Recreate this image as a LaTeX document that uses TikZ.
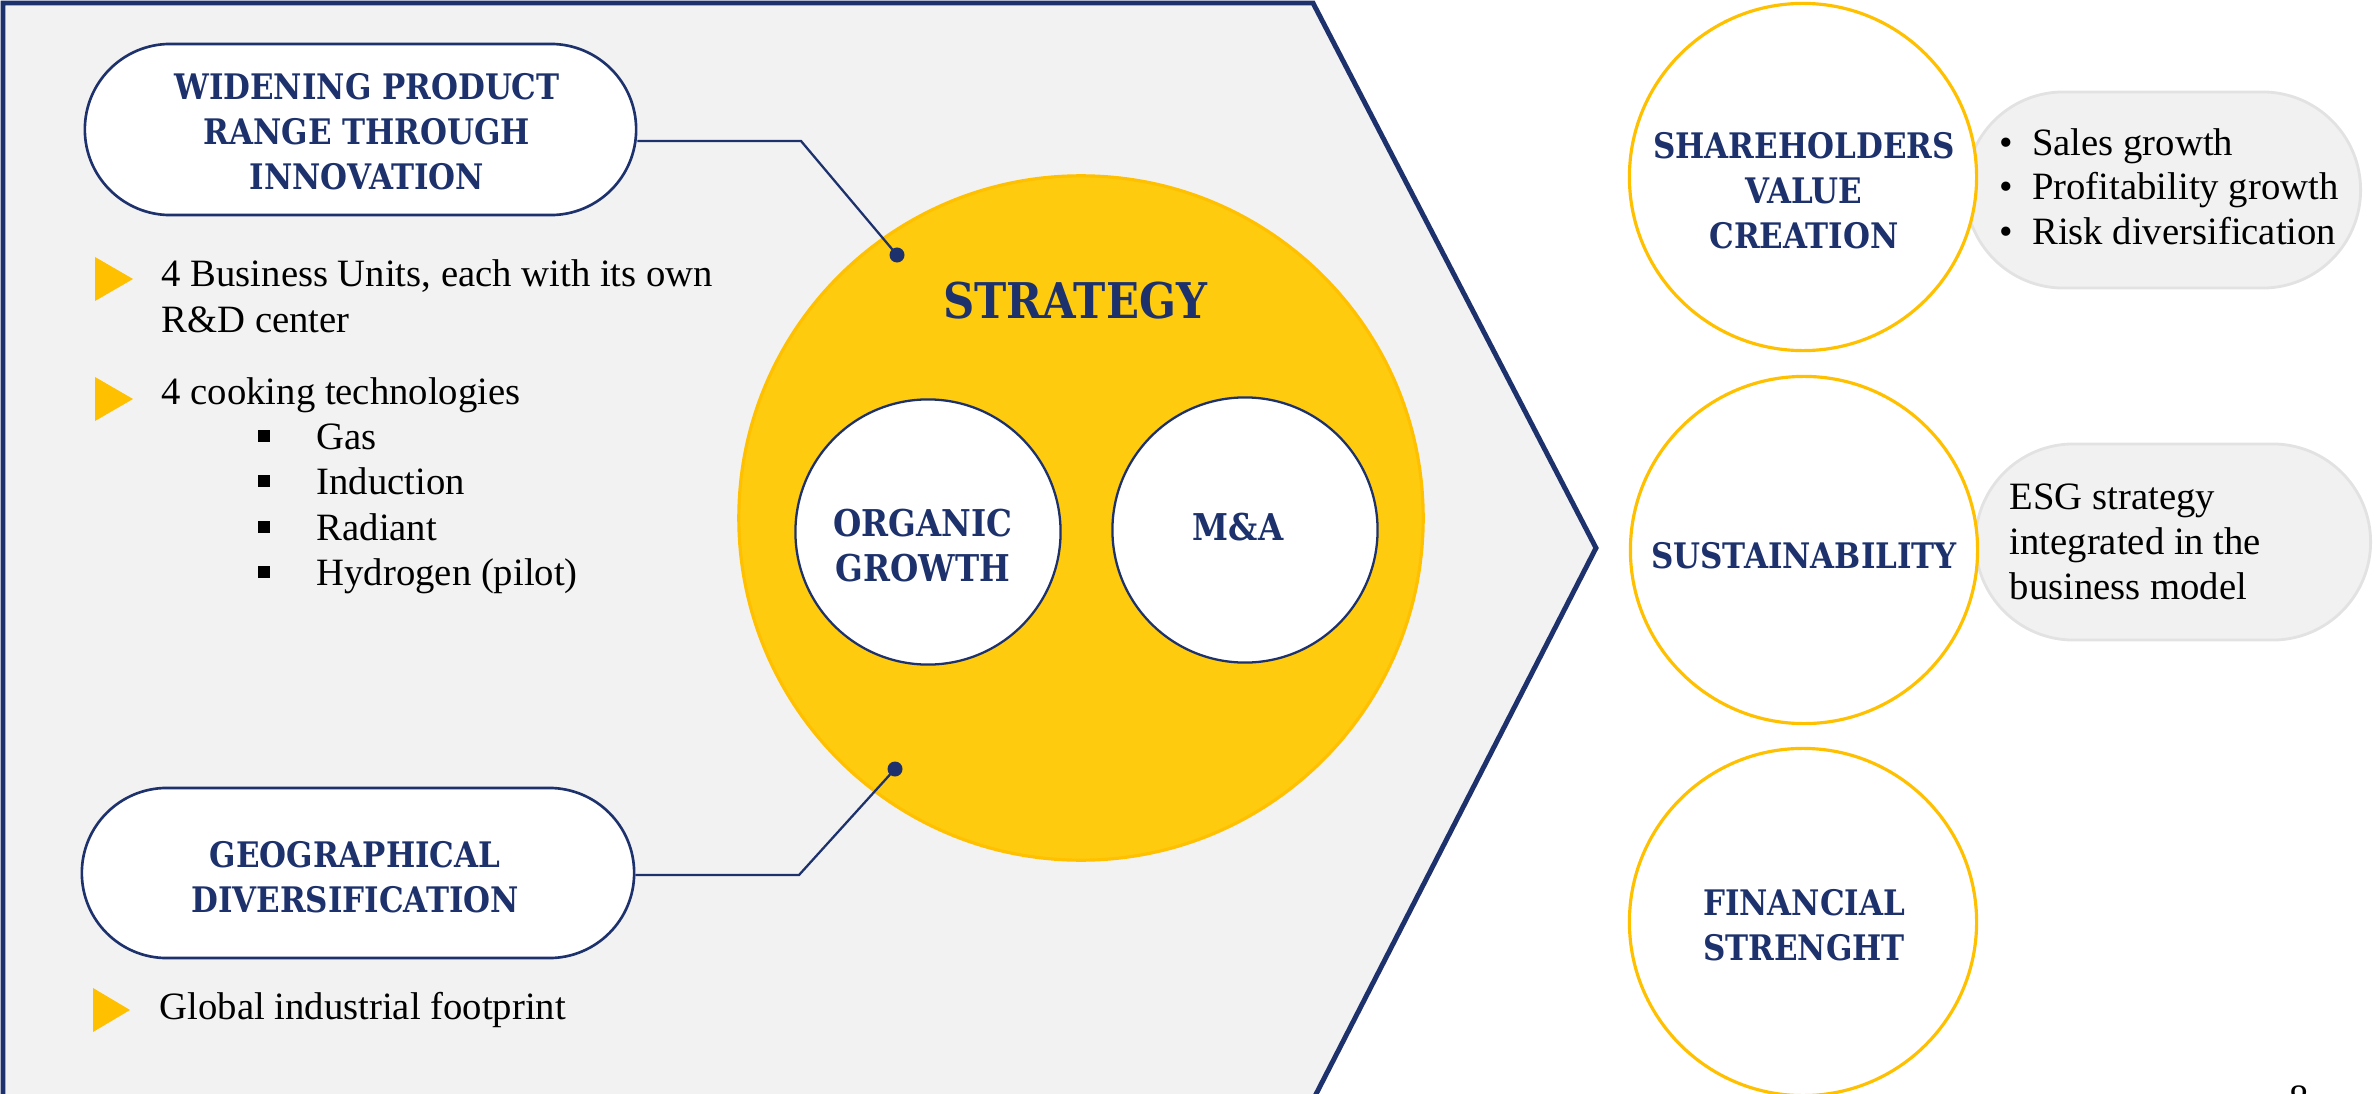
\documentclass[tikz,border=0pt]{standalone}
\usepackage{fontspec}
\setmainfont{Liberation Serif}
\newfontfamily\hfont{DejaVu Serif}[FakeStretch=0.88]
\usetikzlibrary{shapes.misc}
\definecolor{navy}{HTML}{1D316C}
\definecolor{gold}{HTML}{FFCB0E}
\definecolor{goldline}{HTML}{FFC000}
\definecolor{panel}{HTML}{F2F2F2}
\definecolor{pillgray}{HTML}{F1F1F1}
\definecolor{pillline}{HTML}{E2E2E2}
\begin{document}
\begin{tikzpicture}[x=0.01cm,y=-0.01cm,
  title/.style={font=\hfont\bfseries\fontsize{10}{12.8}\selectfont, text=navy, align=center, inner sep=0pt},
  bigtitle/.style={font=\hfont\bfseries\fontsize{14}{16}\selectfont, text=navy, inner sep=0pt},
  midtitle/.style={font=\hfont\bfseries\fontsize{10.5}{13}\selectfont, text=navy, align=center, inner sep=0pt},
  body/.style={font=\fontsize{11}{13}\selectfont, text=black, inner sep=0pt, anchor=base west},
  navypill/.style={rounded rectangle, draw=navy, line width=0.75pt, fill=white, inner sep=0pt},
  graypill/.style={rounded rectangle, draw=pillline, line width=0.8pt, fill=pillgray, inner sep=0pt, minimum width=3.95cm, minimum height=1.96cm},
  yring/.style={circle, draw=goldline, line width=0.9pt, fill=white, minimum size=3.47cm, inner sep=0pt},
  wcirc/.style={circle, draw=navy, line width=0.65pt, fill=white, minimum size=2.65cm, inner sep=0pt},
  dotnode/.style={circle, fill=navy, minimum size=0.15cm, inner sep=0pt},
  sq/.style={fill=black, minimum size=0.11cm, inner sep=0pt},
  link/.style={draw=navy, line width=0.65pt},
  tri/.style={fill=goldline}
]
\useasboundingbox (0,0) rectangle (2375,1094);
\clip (0,0) rectangle (2375,1094);

% chevron panel
\fill[panel] (3,3) -- (1313,3) -- (1596,548) -- (1313,1100) -- (3,1100) -- cycle;
\draw[navy, line width=1.4pt] (3,1100) -- (3,3) -- (1313,3) -- (1596,548) -- (1313,1100);

% left pills
\node[navypill, minimum width=5.51cm, minimum height=1.71cm] (p1) at (360.5,129.5) {};
\node[title] (p1t) at (367,132) {WIDENING PRODUCT\\RANGE THROUGH\\INNOVATION};
\node[navypill, minimum width=5.52cm, minimum height=1.70cm] (p2) at (358,873) {};
\node[title] (p2t) at (355,877) {GEOGRAPHICAL\\DIVERSIFICATION};

% strategy circle
\node[circle, fill=gold, draw=goldline, line width=0.9pt, minimum size=6.84cm, inner sep=0pt] (strat) at (1081,518) {};
\node[bigtitle] (stratt) at (1075,300.5) {STRATEGY};
\node[wcirc] (org) at (928,532) {};
\node[midtitle] (orgt) at (923,545.5) {ORGANIC\\GROWTH};
\node[wcirc] (ma) at (1245,530) {};
\node[midtitle] (mat) at (1238,527.5) {M\&A};

% connectors
\node[dotnode] (d1) at (897,255) {};
\node[dotnode] (d2) at (895,769) {};
\coordinate (k1) at (801,141);
\coordinate (k2) at (799,875);
\draw[link] (p1.east |- k1) -- (k1) -- (d1.center);
\draw[link] (p2.east |- k2) -- (k2) -- (d2.center);

% left bullets
\fill[tri] (95,257) -- (133,279) -- (95,301) -- cycle;
\fill[tri] (95,377) -- (133,399) -- (95,421) -- cycle;
\fill[tri] (93,988) -- (130,1010) -- (93,1032) -- cycle;
\node[body] (b1) at (161,287) {4 Business Units, each with its own};
\node[body] (b1b) at (161,332) {R\&D center};
\node[body] (b2) at (161,404) {4 cooking technologies};
\node[sq] (s1) at (264,436) {};
\node[sq] (s2) at (264,481) {};
\node[sq] (s3) at (264,527) {};
\node[sq] (s4) at (264,572) {};
\node[body] (g1) at (316,449) {Gas};
\node[body] (g2) at (316,494) {Induction};
\node[body] (g3) at (316,540) {Radiant};
\node[body] (g4) at (316,585) {Hydrogen (pilot)};
\node[body] (b3) at (159,1019) {Global industrial footprint};

% right side
\node[graypill] (rp1) at (2163,190) {};
\node[graypill] (rp2) at (2173,542) {};
\node[yring] (c1) at (1803,177) {};
\node[yring] (c2) at (1804,550) {};
\node[yring] (c3) at (1803,922) {};
\node[title] (c1t) at (1804,191) {SHAREHOLDERS\\VALUE\\CREATION};
\node[title] (c2t) at (1804,555.5) {SUSTAINABILITY};
\node[title] (c3t) at (1804,925.5) {FINANCIAL\\STRENGHT};

\node[body] (r1a) at (1999,155.5) {\textbullet};
\node[body] (r1b) at (1999,200) {\textbullet};
\node[body] (r1c) at (1999,244.6) {\textbullet};
\node[body] (r1) at (2031.5,155.5) {Sales growth};
\node[body] (r2) at (2031.5,200) {Profitability growth};
\node[body] (r3) at (2031.5,244.6) {Risk diversification};
\node[body] (e1) at (2009,509) {ESG strategy};
\node[body] (e2) at (2009,554) {integrated in the};
\node[body] (e3) at (2009,599) {business model};

\node[body] (pg) at (2289,1111) {8};
\end{tikzpicture}
\end{document}
